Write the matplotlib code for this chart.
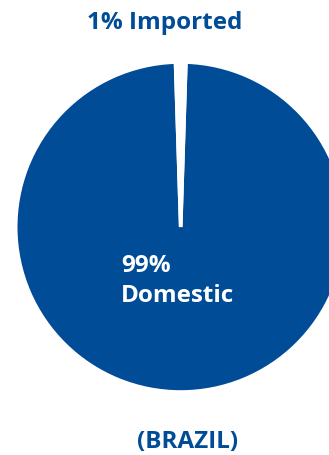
import matplotlib
matplotlib.use('Agg')
import matplotlib.pyplot as plt

labels = ['Domestic', 'Imported']
shares = [99, 1]
country = 'BRAZIL'

blue = '#004c97'
plt.rcParams['font.family'] = ['Open Sans', 'DejaVu Sans']

fig = plt.figure(figsize=(3.29, 4.55), dpi=100)
# square axes centred on the pie, running off the right edge like the original
cx, cy, r = 180.7, 455 - 227, 165
ax = fig.add_axes([(cx - r) / 329, (cy - r) / 455, 2 * r / 329, 2 * r / 455])

ax.pie(shares, colors=[blue, 'white'], startangle=90 - 1.8, counterclock=False,
       radius=1, wedgeprops=dict(edgecolor='white', linewidth=2.6))
ax.set_xlim(-1, 1)
ax.set_ylim(-1, 1)
ax.axis('off')

fig.text(165 / 329, 1 - 23 / 455, f'{shares[1]}% {labels[1]}', color=blue,
         fontsize=17.5, fontweight='bold', ha='center', va='center')
fig.text(121 / 329, 1 - 281 / 455, f'{shares[0]}%\n{labels[0]}', color='white',
         fontsize=17.5, fontweight='bold', ha='left', va='center', linespacing=1.3)
fig.text(188 / 329, 1 - 442 / 455, f'({country})', color=blue,
         fontsize=17.5, fontweight='bold', ha='center', va='center')

fig.savefig('out.png', dpi=100)
